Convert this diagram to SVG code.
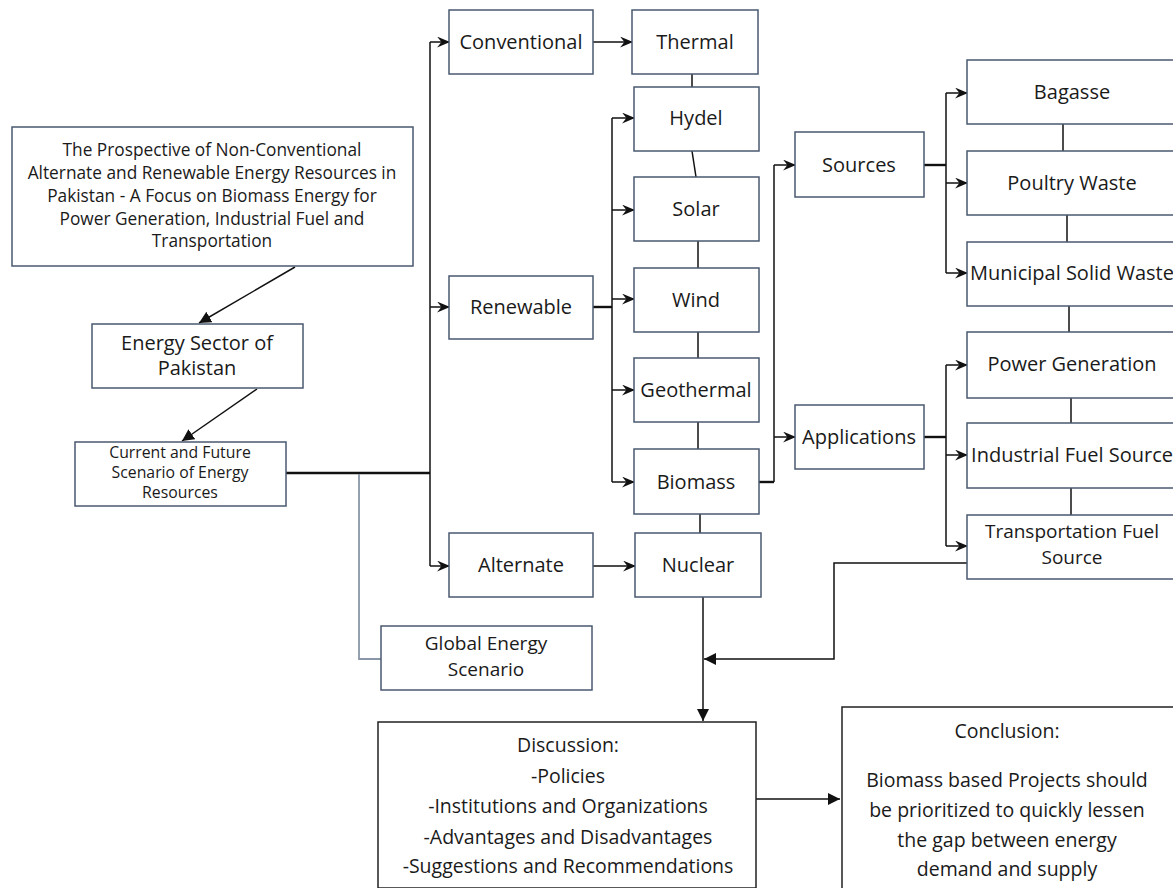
<svg xmlns="http://www.w3.org/2000/svg" width="1173" height="888" viewBox="0 0 1173 888">
<style>
.box{fill:#fff;stroke:#4a5a70;stroke-width:1.5}
.bbox{fill:#fff;stroke:#222;stroke-width:1.5}
text{font-family:"Open Sans","Noto Sans",sans-serif;fill:#1a1a1a;text-anchor:middle}
.t18{font-size:20px}
.t19{font-size:19px}
.t15{font-size:17.3px}
.t14{font-size:15.8px}
.t17{font-size:19.5px}
.c{fill:none;stroke:#111;stroke-width:1.5}
.ct{fill:none;stroke:#111;stroke-width:2.4}
.g{fill:none;stroke:#8a97a8;stroke-width:1.8}
.a{marker-end:url(#chev)}
.f{marker-end:url(#tri)}
</style>
<defs>
<marker id="chev" viewBox="0 0 12 10" refX="11" refY="5" markerWidth="13" markerHeight="11" markerUnits="userSpaceOnUse" orient="auto">
<path d="M0,0 L12,5 L0,10 L4,5 z" fill="#111"/>
</marker>
<marker id="tri" viewBox="0 0 12 12" refX="12" refY="6" markerWidth="12" markerHeight="12" markerUnits="userSpaceOnUse" orient="auto">
<path d="M0,0 L12,6 L0,12 z" fill="#111"/>
</marker>
</defs>

<g id="connectors">
<path class="c f" d="M295,267 L199,323"/>
<path class="c f" d="M257,389 L182,441"/>
<path class="ct" d="M286,473 L430,473"/>
<path class="c" d="M430,42 L430,566"/>
<path class="c a" d="M430,42 L449,42"/>
<path class="c a" d="M430,307 L449,307"/>
<path class="c a" d="M430,566 L449,566"/>
<path class="g" d="M359,474 L359,659 L381,659"/>
<path class="c a" d="M593,42 L632,42"/>
<path class="c a" d="M593,566 L635,566"/>
<path class="ct" d="M593,307 L612,307"/>
<path class="c" d="M612,118 L612,482"/>
<path class="c a" d="M612,118 L634,118"/>
<path class="c a" d="M612,210 L634,210"/>
<path class="c a" d="M612,299 L634,299"/>
<path class="c a" d="M612,390 L634,390"/>
<path class="c a" d="M612,482 L634,482"/>
<path class="c" d="M692,74 L692,87"/>
<path class="c" d="M692,151 L696,177"/>
<path class="c" d="M698,241 L698,268"/>
<path class="c" d="M698,332 L698,358"/>
<path class="c" d="M698,422 L698,449"/>
<path class="c" d="M700,514 L700,533"/>
<path class="ct" d="M759,482 L774,482"/>
<path class="c" d="M774,165 L774,482"/>
<path class="c a" d="M774,165 L795,165"/>
<path class="c a" d="M774,437 L795,437"/>
<path class="ct" d="M924,165 L946,165"/>
<path class="c" d="M946,93 L946,273"/>
<path class="c a" d="M946,93 L967,93"/>
<path class="c a" d="M946,183 L967,183"/>
<path class="c a" d="M946,273 L967,273"/>
<path class="ct" d="M924,437 L946,437"/>
<path class="c" d="M946,365 L946,546"/>
<path class="c a" d="M946,365 L967,365"/>
<path class="c a" d="M946,455 L967,455"/>
<path class="c a" d="M946,546 L967,546"/>
<path class="c" d="M1063,124 L1063,151"/>
<path class="c" d="M1067,215 L1067,242"/>
<path class="c" d="M1069,306 L1069,332"/>
<path class="c" d="M1071,398 L1071,423"/>
<path class="c" d="M1071,488 L1071,515"/>
<path class="c f" d="M967,563 L834,563 L834,659 L704,659"/>
<path class="c f" d="M703,597 L703,721"/>
<path class="c f" d="M756,799 L840,799"/>
</g>

<g id="title">
<rect class="box" x="12" y="127" width="401" height="139"/>
<text class="t15" x="212" y="156">The Prospective of Non-Conventional</text>
<text class="t15" x="212" y="179">Alternate and Renewable Energy Resources in</text>
<text class="t15" x="212" y="202">Pakistan - A Focus on Biomass Energy for</text>
<text class="t15" x="212" y="225">Power Generation, Industrial Fuel and</text>
<text class="t15" x="212" y="247">Transportation</text>
</g>
<g id="energy-sector">
<rect class="box" x="92" y="324" width="211" height="64"/>
<text class="t18" x="197" y="350">Energy Sector of</text>
<text class="t18" x="197" y="375">Pakistan</text>
</g>
<g id="current">
<rect class="box" x="75" y="442" width="211" height="64"/>
<text class="t14" x="180" y="458">Current and Future</text>
<text class="t14" x="180" y="478">Scenario of Energy</text>
<text class="t14" x="180" y="498">Resources</text>
</g>
<g id="global">
<rect class="box" x="381" y="626" width="211" height="64"/>
<text class="t19" x="486" y="650">Global Energy</text>
<text class="t19" x="486" y="676">Scenario</text>
</g>
<g id="conventional">
<rect class="box" x="449" y="10" width="144" height="64"/>
<text class="t18" x="521" y="49">Conventional</text>
</g>
<g id="renewable">
<rect class="box" x="449" y="276" width="144" height="63"/>
<text class="t18" x="521" y="314">Renewable</text>
</g>
<g id="alternate">
<rect class="box" x="449" y="533" width="144" height="64"/>
<text class="t18" x="521" y="572">Alternate</text>
</g>
<g id="thermal">
<rect class="box" x="632" y="10" width="126" height="64"/>
<text class="t18" x="695" y="49">Thermal</text>
</g>
<g id="hydel">
<rect class="box" x="634" y="87" width="125" height="64"/>
<text class="t18" x="696" y="125">Hydel</text>
</g>
<g id="solar">
<rect class="box" x="634" y="177" width="125" height="64"/>
<text class="t18" x="696" y="216">Solar</text>
</g>
<g id="wind">
<rect class="box" x="634" y="268" width="125" height="64"/>
<text class="t18" x="696" y="307">Wind</text>
</g>
<g id="geothermal">
<rect class="box" x="634" y="358" width="125" height="64"/>
<text class="t18" x="696" y="397">Geothermal</text>
</g>
<g id="biomass">
<rect class="box" x="634" y="449" width="125" height="65"/>
<text class="t18" x="696" y="489">Biomass</text>
</g>
<g id="nuclear">
<rect class="box" x="635" y="533" width="126" height="64"/>
<text class="t18" x="698" y="572">Nuclear</text>
</g>
<g id="sources">
<rect class="box" x="795" y="132" width="129" height="65"/>
<text class="t18" x="859" y="172">Sources</text>
</g>
<g id="applications">
<rect class="box" x="795" y="405" width="129" height="64"/>
<text class="t18" x="859" y="444">Applications</text>
</g>
<g id="bagasse">
<rect class="box" x="967" y="60" width="212" height="64"/>
<text class="t18" x="1072" y="99">Bagasse</text>
</g>
<g id="poultry">
<rect class="box" x="967" y="151" width="212" height="64"/>
<text class="t18" x="1072" y="190">Poultry Waste</text>
</g>
<g id="msw">
<rect class="box" x="967" y="242" width="212" height="64"/>
<text class="t18" x="1072" y="280">Municipal Solid Waste</text>
</g>
<g id="power">
<rect class="box" x="967" y="332" width="212" height="66"/>
<text class="t18" x="1072" y="371">Power Generation</text>
</g>
<g id="industrial">
<rect class="box" x="967" y="423" width="212" height="65"/>
<text class="t18" x="1072" y="462">Industrial Fuel Source</text>
</g>
<g id="transport">
<rect class="box" x="967" y="515" width="212" height="64"/>
<text class="t19" x="1072" y="538">Transportation Fuel</text>
<text class="t19" x="1072" y="564">Source</text>
</g>
<g id="discussion">
<rect class="bbox" x="378" y="722" width="378" height="166"/>
<text class="t17" x="568" y="752">Discussion:</text>
<text class="t17" x="568" y="783">-Policies</text>
<text class="t17" x="568" y="813">-Institutions and Organizations</text>
<text class="t17" x="568" y="844">-Advantages and Disadvantages</text>
<text class="t17" x="568" y="873">-Suggestions and Recommendations</text>
</g>
<g id="conclusion">
<rect class="bbox" x="842" y="707" width="340" height="190"/>
<text class="t17" x="1007" y="738">Conclusion:</text>
<text class="t17" x="1007" y="787">Biomass based Projects should</text>
<text class="t17" x="1007" y="817">be prioritized to quickly lessen</text>
<text class="t17" x="1007" y="847">the gap between energy</text>
<text class="t17" x="1007" y="876">demand and supply</text>
</g>
</svg>
